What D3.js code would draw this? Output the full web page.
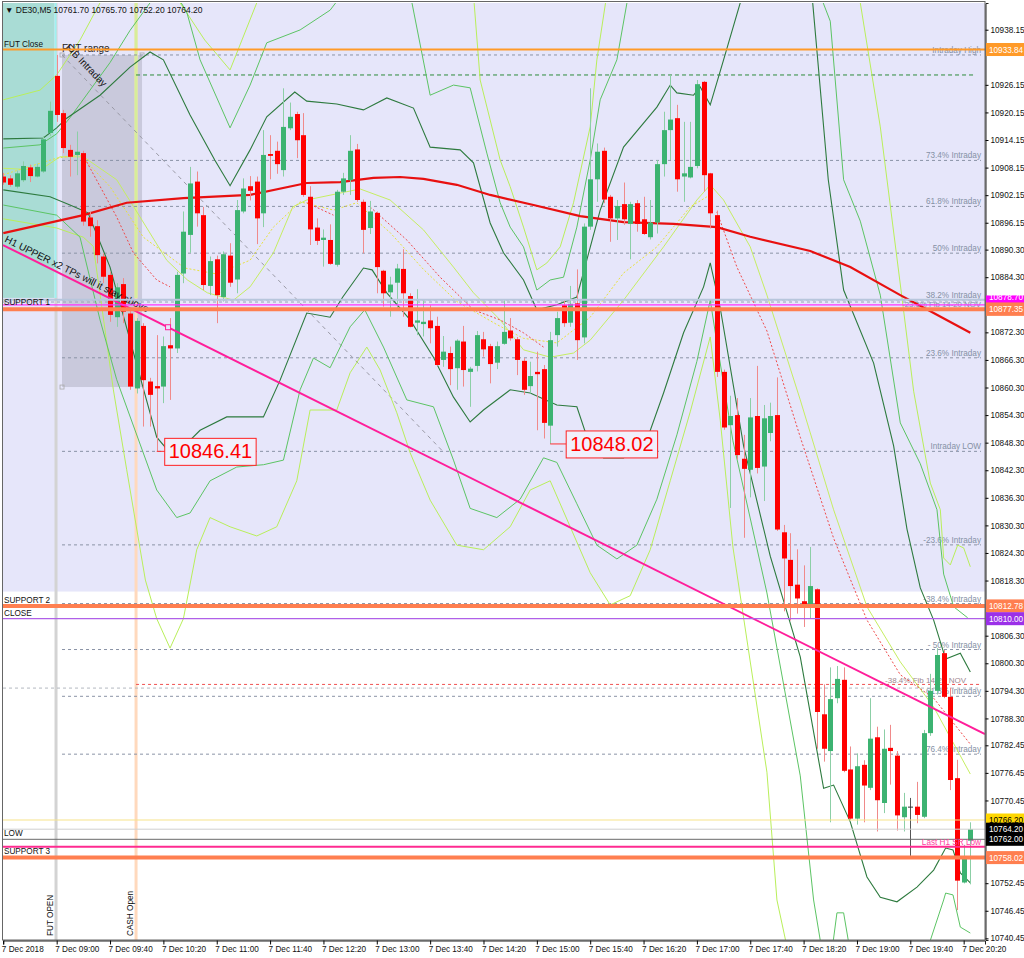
<!DOCTYPE html>
<html><head><meta charset="utf-8">
<script src="https://cdn.jsdelivr.net/npm/d3@7"></script>
<style>
body{margin:0;background:#fff}
svg{display:block}
text{font-family:"Liberation Sans",Arial,sans-serif}
</style>
</head><body>
<svg id="c" width="1024" height="958"></svg>
<script>
// ---------------- DATA ----------------
const symbol = "DE30,M5";
const headerOHLC = [10761.70, 10765.70, 10752.20, 10764.20];
const firstBar = -8; // bar index of first candle (0 = 7 Dec 09:00, 5-minute bars)
const opens = [10906.2,10905.8,10904.0,10905.4,10908.2,10906.2,10907.3,10915.7,
10928.1,10920.0,10912.0,10910.9,10911.3,10897.3,10895.4,10888.8,10884.8,10875.6,
10882.8,10876.4,10860.1,10873.7,10861.6,10860.6,10860.5,10869.5,10868.8,10885.1,
10893.5,10905.1,10897.8,10882.4,10888.2,10880.0,10889.0,10883.8,10898.6,10904.1,
10905.1,10898.2,10911.1,10911.8,10907.6,10916.7,10919.8,10915.2,10901.8,10895.1,
10892.4,10892.4,10887.0,10902.9,10905.4,10912.1,10900.7,10895.0,10898.3,10885.7,
10881.0,10883.1,10886.1,10880.2,10874.4,10874.1,10874.9,10873.7,10866.3,10867.8,
10864.5,10870.3,10863.7,10865.0,10870.8,10869.3,10865.7,10869.8,10872.7,10870.8,
10866.1,10860.6,10863.7,10864.3,10852.0,10871.7,10878.2,10874.4,10878.6,10871.2,
10895.3,10905.6,10911.8,10901.8,10897.1,10900.2,10895.9,10900.4,10896.9,10893.0,
10896.2,10908.9,10916.3,10918.9,10906.2,10906.0,10908.5,10926.8,10906.9,10897.8,
10863.7,10852.1,10854.3,10844.8,10842.4,10854.1,10843.1,10850.4,10854.3,10828.8,
10822.8,10817.4,10813.8,10812.4,10816.4,10789.2,10781.2,10792.7,10796.7,10777.2,
10766.5,10778.2,10773.2,10784.2,10769.9,10781.9,10780.2,10766.8,10769.0,10769.1,
10766.9,10785.1,10794.3,10802.5,10793.0,10775.3,10752.6,10761.7];
const highs = [10907.0,10906.5,10907.5,10909.5,10908.8,10909.0,10915.0,10922.5,
10932.65,10920.7,10913.1,10916.0,10911.8,10898.6,10896.7,10889.5,10885.5,10883.0,
10884.1,10877.2,10875.4,10874.3,10862.4,10871.7,10871.4,10875.4,10885.5,10898.6,
10908.3,10907.3,10899.6,10888.8,10889.0,10889.9,10891.7,10901.1,10905.8,10906.3,
10906.2,10916.3,10915.2,10913.8,10925.4,10922.3,10920.3,10920.0,10904.1,10897.1,
10894.7,10895.8,10903.3,10907.0,10915.2,10913.3,10901.2,10900.9,10898.6,10885.9,
10884.4,10887.2,10890.4,10880.8,10881.7,10879.3,10878.2,10875.7,10871.5,10869.2,
10870.8,10873.7,10864.8,10872.6,10872.4,10869.8,10870.3,10879.3,10875.4,10871.3,
10866.7,10865.9,10868.1,10865.2,10872.4,10876.8,10879.5,10882.4,10886.0,10896.0,
10925.4,10913.4,10912.5,10902.2,10901.1,10904.9,10900.7,10901.1,10901.8,10901.1,
10909.8,10920.3,10928.3,10921.8,10918.1,10918.1,10927.2,10927.0,10907.0,10898.8,
10864.2,10858.5,10858.0,10850.0,10858.0,10865.0,10856.5,10857.0,10862.5,10830.4,
10828.6,10825.1,10821.6,10825.6,10816.6,10795.7,10799.4,10799.7,10799.4,10782.2,
10780.7,10779.2,10792.7,10786.5,10785.9,10786.9,10781.2,10772.1,10771.0,10774.5,
10785.8,10798.0,10803.6,10803.2,10795.0,10779.3,10760.8,10765.7];
const lows = [10904.4,10904.0,10903.6,10905.0,10905.0,10906.0,10907.0,10915.0,
10918.1,10911.3,10906.2,10906.5,10895.5,10893.1,10887.3,10883.0,10874.6,10873.5,
10874.3,10859.8,10859.0,10851.8,10851.8,10846.41,10856.9,10857.6,10867.8,10883.0,
10889.6,10895.3,10881.5,10880.4,10874.3,10879.0,10882.2,10880.8,10898.2,10901.0,
10891.5,10895.2,10905.6,10906.8,10906.2,10916.3,10910.2,10901.8,10891.3,10891.3,
10886.6,10887.0,10886.6,10902.2,10902.2,10900.7,10889.5,10893.7,10880.8,10877.9,
10875.7,10877.2,10875.7,10873.4,10871.7,10871.4,10869.9,10865.0,10864.8,10860.8,
10859.8,10860.5,10856.1,10863.8,10867.0,10861.2,10864.3,10869.6,10870.5,10863.0,
10858.7,10859.0,10851.0,10849.2,10848.02,10869.2,10873.5,10873.5,10866.3,10869.9,
10894.6,10900.7,10900.4,10892.0,10892.4,10895.7,10888.2,10894.2,10893.5,10892.5,
10893.8,10906.2,10909.8,10902.9,10900.7,10905.8,10908.0,10902.9,10894.9,10862.6,
10851.1,10834.1,10844.6,10827.6,10836.4,10841.6,10835.6,10848.6,10829.1,10811.6,
10809.6,10811.1,10808.2,10810.1,10781.7,10778.9,10765.7,10791.6,10776.6,10766.2,
10765.2,10765.7,10772.7,10763.7,10767.7,10773.9,10763.9,10763.7,10758.4,10765.5,
10766.6,10784.5,10793.5,10792.7,10772.7,10746.6,10752.4,10752.2];
const closes = [10904.9,10904.4,10906.9,10908.5,10906.3,10908.3,10914.3,10920.5,
10919.6,10912.4,10910.5,10911.6,10896.4,10895.4,10889.1,10884.4,10876.1,10882.1,
10876.8,10860.5,10874.8,10861.9,10858.7,10860.1,10869.3,10868.8,10884.8,10894.2,
10904.7,10898.2,10882.6,10887.8,10880.4,10889.3,10883.1,10898.9,10903.6,10903.1,
10897.1,10910.9,10910.7,10908.9,10917.0,10919.2,10914.1,10902.2,10894.7,10892.2,
10892.9,10887.2,10902.9,10905.8,10911.8,10901.1,10894.6,10898.6,10886.5,10880.8,
10882.7,10886.2,10880.8,10873.5,10874.9,10874.6,10873.2,10865.2,10868.1,10864.3,
10870.5,10864.1,10864.4,10871.7,10868.6,10865.4,10869.3,10872.4,10871.0,10866.3,
10859.8,10862.8,10863.2,10852.6,10870.6,10875.4,10874.3,10878.5,10870.6,10895.3,
10905.6,10911.6,10901.2,10897.1,10899.8,10896.9,10900.2,10895.9,10893.7,10896.2,
10908.9,10916.3,10918.6,10905.6,10906.9,10908.3,10926.3,10906.5,10898.2,10863.7,
10851.6,10854.1,10845.6,10842.6,10853.8,10842.8,10853.6,10854.1,10829.4,10823.1,
10817.1,10814.4,10813.1,10817.1,10789.7,10781.7,10792.5,10796.9,10776.9,10766.5,
10777.9,10773.7,10783.9,10770.5,10781.7,10781.2,10767.2,10769.1,10769.0,10767.3,
10785.1,10794.3,10802.1,10793.0,10774.9,10753.0,10758.2,10764.2];

const timeTickBars = [-8,0,8,16,24,32,40,48,56,64,72,80,88,96,104,112,120,128,136];
const timeLabels = ["7 Dec 2018","7 Dec 09:00","7 Dec 09:40","7 Dec 10:20","7 Dec 11:00","7 Dec 11:40",
"7 Dec 12:20","7 Dec 13:00","7 Dec 13:40","7 Dec 14:20","7 Dec 15:00","7 Dec 15:40","7 Dec 16:20",
"7 Dec 17:00","7 Dec 17:40","7 Dec 18:20","7 Dec 19:00","7 Dec 19:40","7 Dec 20:20"];
const priceTicks = [10938.15,10932.15,10926.15,10920.15,10914.15,10908.15,10902.15,10896.15,
10890.30,10884.30,10878.30,10872.30,10866.30,10860.30,10854.30,10848.30,10842.30,10836.30,
10830.30,10824.30,10818.30,10812.30,10806.30,10800.30,10794.30,10788.30,10782.45,10776.45,
10770.45,10764.45,10758.45,10752.45,10746.45,10740.45];

// Intraday fib (high / low) and its levels
const fibHigh = 10932.65, fibLow = 10846.41;
const fibLevels = [1.0, 0.734, 0.618, 0.5, 0.382, 0.236, 0, -0.236, -0.384, -0.5, -0.618, -0.764];
const fibTexts = ["Intraday High","73.4%  Intraday","61.8% Intraday","50%   Intraday","38.2%  Intraday",
"23.6%  Intraday","Intraday LOW","-23.6% Intraday","-38.4% Intraday","- 50% Intraday","- 61.8% Intraday","-76.4% Intraday"];
const fibStartBar = 0.8, fibEndBar = 12.8, fibLowBar = 57.9, fibBoxLow = 10860.4;

// horizontal objects
const hLineNames  = ["FUT Close","SUPPORT 1","SUPPORT 2","CLOSE","LOW","SUPPORT 3"];
const hLinePrices = [10933.84, 10877.35, 10812.78, 10810.00, 10762.00, 10758.02];
const extraLevelPrices = [10878.30, 10879.40, 10766.20, 10764.20, 10760.40]; // magenta, steel, yellow, bid, Last H1 SR Low
const greenDashPrice = 10928.3;
const nov236 = 10878.9, nov384 = 10795.7, nov384b = 10794.9;
const lavenderBottom = 10815.9, tealBottom = 10879.8;
const futOpenBar = -0.1, cashOpenBar = 11.9, tealEndBar = -0.35;

// trendline "H1 UPPER x2 TPs will it stay above"
const trendBars = [-8.05, 139.2], trendPrices = [10891.3, 10784.9], trendMarkBar = 16.7;

// price labels
const bigLabelBars = [15, 74], bigLabelPrices = [10846.41, 10848.02], bigLabelAnchor = [16.2, 76.4];

// moving average (red)
const maLine = [[-8,10893.9],[4,10897.8],[10.5,10900.5],[19,10901.5],[29,10902.2],[37.5,10904.8],[42.5,10905.0],
[47.5,10905.9],[51.5,10906.1],[55,10905.7],[60,10904.4],[65,10902.2],[71.5,10900.0],[78.5,10897.6],[85,10896.3],
[92.5,10895.9],[99,10895.2],[104,10893.1],[113,10890.0],[119,10886.5],[126.5,10880.4],[131.5,10876.5],[137,10872.2]];

// bands: dark green
const dgUpper = [[-8,10914.4],[-2,10914.6],[0,10916.8],[1.5,10918.9],[6.5,10923.9],[11,10930.0],[14,10933.3],[16,10931.6],
[20,10919.6],[23.7,10909.8],[26,10904.2],[29,10912.0],[31.5,10919.2],[35.7,10924.6],[37.5,10922.6],[42,10922.0],
[46,10920.7],[49.5,10923.3],[53.5,10921.1],[56,10912.6],[60.5,10912.0],[62.5,10909.2],[65,10896.1],[67,10889.6],
[70,10883.7],[72,10877.2],[75,10878.3],[78,10880.0],[81.5,10898.9],[85,10912.6],[90,10921.3],[92,10926.1],[93,10924.4],
[95.5,10923.9],[96.5,10925.7],[98,10921.8],[100,10931.6],[102.5,10944],[105,10955],[110,10960],[113,10950],
[115.7,10905.5],[118,10881.5],[122.5,10865.6],[125.5,10847.6],[127.5,10829.5],[129.5,10816.7],[131.5,10809.7],
[133.3,10801.2],[135.5,10802.5],[137,10798.4]];
const dgLower = [[-8,10903.3],[-1,10901.8],[2,10900.0],[4.7,10898.3],[8,10886.5],[11.4,10868.5],[15,10849.5],[17.5,10845.2],
[21.5,10851.0],[25.5,10853.9],[31,10853.9],[33.5,10861.9],[37.5,10876.5],[41,10875.6],[42.9,10880.0],[46,10886.3],
[47.3,10885.9],[49.5,10880.9],[53,10875.0],[56.5,10866.9],[59.5,10858.2],[62,10852.8],[64,10855.4],[68,10859.8],
[71,10859.1],[75,10856.5],[78,10856.1],[80,10847.4],[82,10845.0],[85,10845.0],[88.5,10848.9],[91,10859.1],[94,10872.2],
[97,10882.2],[98,10887.4],[99.5,10877.6],[103,10847.6],[107,10823.6],[111.5,10801.7],[115,10773.1],[116.5,10773.8],
[119,10765.8],[121.5,10753.8],[123.5,10749.4],[126,10748.4],[129,10751.6],[131.5,10755.3],[133.3,10760.1],
[134.4,10759.7],[135.5,10754.7],[137,10752.5]];
// bands: medium green
const mgUpper = [[-8,10912.4],[-2.5,10913.1],[0,10915.5],[2,10919],[5,10925],[8,10931],[11,10938],[14,10944],[17,10948],
[19.5,10942],[21.5,10931.6],[26,10916.8],[29,10926.1],[31.5,10935.3],[36.5,10938.1],[41,10942.4],[45,10950],[53,10946],
[56,10923.9],[59.5,10926.1],[62,10925.5],[64.5,10911.3],[66.5,10900.5],[68,10895.2],[70,10890.9],[72,10881.5],[74,10883.7],
[76,10884.3],[78,10895.2],[80,10909.8],[81.5,10922.9],[84,10931.6],[86,10948],[112,10955],[116,10940],[118,10905.5],
[120.5,10896.5],[123.5,10880.4],[126.5,10852.6],[129.5,10843.7],[132,10833.7],[133,10819.7],[134.5,10812.6],[136.6,10810.2]];
const mgLower = [[-8,10900],[0,10897.8],[3.5,10893],[6.5,10875],[9,10862],[12.5,10848],[15,10838],[18,10832],[20,10833],
[23,10840],[27,10843],[31,10843.5],[34,10844.5],[36.5,10859.8],[38.5,10866.7],[41,10864.6],[44,10873.5],[46.2,10877.2],
[49,10869.1],[52.5,10857.6],[56.5,10856.1],[59.5,10844.5],[62,10834],[66,10832],[69.5,10836],[73,10845],[75,10844],
[78,10835],[81,10826],[84,10823],[87,10826],[90,10836],[93,10850],[96,10866],[98,10879.3],[99,10870],[101.4,10848.7],
[106.5,10815.6],[111.5,10775.8],[113.5,10748.8],[114.5,10740],[116,10735],[117,10746],[118,10746],[118.7,10740],
[120,10725],[129,10725],[131,10740],[133,10748.8],[133.3,10750.3],[134.4,10749.9],[135.5,10742.9],[137,10741.6]];
// bands: yellow-green
const ygUpper = [[-8,10922.9],[-2.5,10925],[0,10928.3],[3.5,10935.9],[6.5,10944],[9,10952],[13,10955],[18.5,10944],
[22.2,10935.9],[26,10929.4],[30,10944],[34,10955],[62,10955],[63.5,10927.2],[66.5,10909.8],[68,10904],[70,10895.2],
[72,10885.9],[73.5,10887.4],[75.5,10890.9],[77.5,10900.5],[80,10917.0],[81,10931.6],[82.3,10944],[86,10960],[120,10960],
[120.5,10944],[123.5,10917],[126.8,10879.3],[128.5,10859.5],[131,10839.5],[132.5,10833.7],[133,10823.2],[134,10821.7],
[135.1,10826],[136,10825.4],[137,10821.3]];
const ygLower = [[-8,10897],[0,10895],[4,10893],[5.5,10891],[8.5,10859.8],[10.5,10842.4],[13.3,10818.4],[15,10810],
[17,10803.6],[19,10810],[21,10825],[23,10832],[26,10830],[30,10828],[33,10830],[36,10840],[38,10855.4],[42,10855.4],
[44,10863.5],[46.5,10869.1],[48.5,10864.1],[51,10854.8],[53,10846.1],[56,10835.8],[60,10826],[64,10825],[68,10830],
[71,10838],[74,10840],[77,10830],[80,10820],[83,10813],[86,10815],[89,10825],[92,10840],[95,10855],[98,10871.3],
[99.5,10853.2],[101.4,10825.6],[106.5,10776.6],[108,10748.8],[109.3,10740],[112,10720],[137,10720]];
// middle lines
const ygMiddle = [[-8,10908],[-2.5,10907.6],[0.5,10910.5],[4,10910.5],[9,10905.5],[12.5,10897.4],[16.5,10888],[19.6,10883.7],
[22.6,10880.9],[26.5,10879.3],[29,10882.2],[32.5,10889.6],[35.4,10899.6],[37.5,10901.1],[45.5,10903.5],[50,10901.1],
[55,10894.6],[59.5,10886.5],[62.5,10880.9],[66.5,10875],[70,10868.5],[74,10866.9],[77.5,10867.8],[80,10870.6],[85,10879.3],
[91,10890.9],[96,10901.1],[98,10904.4],[100,10901.1],[104,10890.9],[106.5,10880.4],[111.5,10857.6],[116.5,10833.7],
[121.5,10812.6],[126.5,10800.6],[131.5,10790.8],[137,10776.2]];
const yellowDash = [[-8,10906.6],[0,10910.2],[3.5,10910.9],[8,10904],[13,10893],[19.2,10886.3],[24,10885],[29,10888],
[32.5,10895.2],[36.5,10900.7],[38.5,10900],[41.5,10898.9],[45,10900.5],[50,10894],[55,10886],[60,10879],[66,10874],
[70,10871],[75,10870],[80,10875.6],[85,10885.2],[90,10890.9],[95,10899.6],[97.5,10901.8]];
const redDotted = [
 [[4.5,10909.4],[9,10897.4],[11.5,10889.6],[15,10883.7],[17,10882.2]],
 [[37.5,10900.5],[41.5,10897.8]],
 [[47,10899.6],[52.5,10892.4],[57.5,10884.3],[62.5,10877.2],[66.5,10875],[70,10872.2],[73,10869.1]],
 [[99,10898.5],[102,10886.5],[106.5,10872.6],[111.5,10849.5],[116.5,10827.5],[121.5,10809.7],[126.5,10797.8],[131.5,10792.7],[137,10782.7]]
];

// ---------------- DRAWING ----------------
const svg = d3.select("#c");
const L = 3, R = 985, T = 3, B = 940;
const x = d3.scaleLinear().domain([-8.05, 139.2]).range([L, R]);
const y = d3.scaleLinear().domain([10740.09, 10943.96]).range([B, T]);

svg.append("defs").append("clipPath").attr("id","clip")
  .append("rect").attr("x",L).attr("y",T).attr("width",R-L).attr("height",B-T);
const g = svg.append("g").attr("clip-path","url(#clip)");

// backgrounds
g.append("rect").attr("x",L).attr("y",T).attr("width",R-L).attr("height",y(lavenderBottom)-T).attr("fill","#e6e6fa");
g.append("rect").attr("x",x(-8.05)).attr("y",T).attr("width",x(tealEndBar)-x(-8.05)).attr("height",y(tealBottom)-T).attr("fill","#a9dcd5");
g.append("rect").attr("x",x(fibStartBar)).attr("y",y(fibHigh)).attr("width",x(fibEndBar)-x(fibStartBar))
  .attr("height",y(fibBoxLow)-y(fibHigh)).attr("fill","#c9c9dc");
// vertical lines
g.append("line").attr("x1",x(futOpenBar)).attr("x2",x(futOpenBar)).attr("y1",T).attr("y2",B).attr("stroke","#d3d3d3").attr("stroke-width",3);
g.append("line").attr("x1",x(futOpenBar)-0.5).attr("x2",x(futOpenBar)-0.5).attr("y1",T).attr("y2",y(tealBottom)).attr("stroke","#9ff2f2").attr("stroke-width",2);
g.append("line").attr("x1",x(cashOpenBar)).attr("x2",x(cashOpenBar)).attr("y1",T).attr("y2",B).attr("stroke","#ffd9bd").attr("stroke-width",3);
g.append("line").attr("x1",x(cashOpenBar)).attr("x2",x(cashOpenBar)).attr("y1",T).attr("y2",y(tealBottom)).attr("stroke","#d6ee9a").attr("stroke-width",3);

// fib corner markers
[[fibStartBar,fibHigh],[fibStartBar,fibBoxLow],[fibEndBar,fibHigh]].forEach(p=>{
  g.append("rect").attr("x",x(p[0])-2).attr("y",y(p[1])-2).attr("width",4).attr("height",4)
   .attr("fill","none").attr("stroke","#aaaaaa").attr("stroke-width",0.8);
});

// fib levels
const range = fibHigh - fibLow;
fibLevels.forEach((lv,i)=>{
  const p = fibLow + lv*range;
  g.append("line").attr("x1",x(fibStartBar)).attr("x2",981).attr("y1",y(p)).attr("y2",y(p))
    .attr("stroke","#8a93a6").attr("stroke-width",1).attr("stroke-dasharray","3,3");
  g.append("text").attr("x",981).attr("y",y(p)-2).attr("text-anchor","end").attr("font-size",8.2)
    .attr("fill","#8591a5").text(fibTexts[i]);
});
// Fib 14-20 NOV
g.append("line").attr("x1",L).attr("x2",981).attr("y1",y(nov236)).attr("y2",y(nov236))
  .attr("stroke","#98a2b4").attr("stroke-width",1).attr("stroke-dasharray","3,3");
g.append("text").attr("x",981).attr("y",y(nov236)+5).attr("text-anchor","end").attr("font-size",7.8).attr("fill","#8591a5").text("-23.6%  Fib 14-20  NOV");
g.append("line").attr("x1",L).attr("x2",981).attr("y1",y(nov384b)).attr("y2",y(nov384b))
  .attr("stroke","#b4b8c0").attr("stroke-width",1).attr("stroke-dasharray","3,3");
g.append("line").attr("x1",x(cashOpenBar)).attr("x2",981).attr("y1",y(nov384)).attr("y2",y(nov384))
  .attr("stroke","#f05050").attr("stroke-width",1).attr("stroke-dasharray","3,3");
g.append("text").attr("x",966).attr("y",y(nov384)-1.5).attr("text-anchor","end").attr("font-size",8).attr("fill","#a08890").text("-38.4%  Fib 14-20  NOV");
// green dashed
g.append("line").attr("x1",x(cashOpenBar)).attr("x2",975).attr("y1",y(greenDashPrice)).attr("y2",y(greenDashPrice))
  .attr("stroke","#2c8a3a").attr("stroke-width",1).attr("stroke-dasharray","4,3");

// fib diagonal
g.append("line").attr("x1",x(fibStartBar)).attr("y1",y(fibHigh)).attr("x2",x(fibLowBar)).attr("y2",y(fibLow))
  .attr("stroke","#9a9aa6").attr("stroke-width",1).attr("stroke-dasharray","4,4");

// helpers
const line = d3.line().x(d=>x(d[0])).y(d=>y(d[1]));
function path(pts, color, w, dash){
  const p = g.append("path").attr("d",line(pts)).attr("fill","none").attr("stroke",color).attr("stroke-width",w);
  if(dash) p.attr("stroke-dasharray",dash);
  return p;
}
// bands
path(ygUpper,"#b9ef5a",1); path(ygLower,"#b9ef5a",1);
path(mgUpper,"#5cc464",1); path(mgLower,"#5cc464",1);
path(dgUpper,"#2d7a3e",1.1); path(dgLower,"#2d7a3e",1.1);
path(ygMiddle,"#c6ee62",1);
path(yellowDash,"#e8e23c",1,"2,2");
redDotted.forEach(s=>path(s,"#f04a4a",1,"2,2"));
path(maLine,"#e81010",2.2);

// candles
const bw = 5;
opens.forEach((o,i)=>{
  const k = firstBar + i, h = highs[i], l = lows[i], c = closes[i];
  const up = c > o, doji = c === o;
  const col = doji ? "#333" : (up ? "#3cb371" : "#ff0000");
  const wcol = doji ? "#555" : (up ? "#8ccfa6" : "#f08a8a");
  const cx = Math.round(x(k)) + 0.5;
  g.append("line").attr("x1",cx).attr("x2",cx).attr("y1",y(h)).attr("y2",y(l)).attr("stroke",wcol).attr("stroke-width",1);
  if (doji) {
    g.append("line").attr("x1",cx-2.5).attr("x2",cx+2.5).attr("y1",y(o)).attr("y2",y(o)).attr("stroke",col).attr("stroke-width",1);
  } else {
    const top = y(Math.max(o,c)), bot = y(Math.min(o,c));
    g.append("rect").attr("x",cx-bw/2).attr("y",top).attr("width",bw).attr("height",Math.max(1,bot-top)).attr("fill",col);
  }
});

// trendline
const tl = d3.scaleLinear().domain(trendBars).range(trendPrices);
g.append("line").attr("x1",x(trendBars[0])).attr("y1",y(trendPrices[0])).attr("x2",x(trendBars[1])).attr("y2",y(trendPrices[1]))
  .attr("stroke","#ff1e9a").attr("stroke-width",2);
g.append("rect").attr("x",x(trendMarkBar)-2.5).attr("y",y(tl(trendMarkBar))-2.5).attr("width",5).attr("height",5)
  .attr("fill","#e6e6fa").attr("stroke","#ff1e9a").attr("stroke-width",1);
const ang = Math.atan2(y(trendPrices[1])-y(trendPrices[0]), x(trendBars[1])-x(trendBars[0]))*180/Math.PI;
g.append("text").attr("transform",`translate(${x(-7.9)},${y(tl(-7.9))-4}) rotate(${ang})`)
  .attr("font-size",10).attr("fill","#111").text("H1 UPPER x2 TPs will it stay above");
const fang = Math.atan2(y(fibLow)-y(fibHigh), x(fibLowBar)-x(fibStartBar))*180/Math.PI;
g.append("text").attr("transform",`translate(${x(fibStartBar)+3},${y(fibHigh)-7}) rotate(${fang})`)
  .attr("font-size",10).attr("fill","#111").text("FIB Intraday");
g.append("text").attr("x",x(fibStartBar)).attr("y",y(fibHigh)-3).attr("font-size",10).attr("fill","#222").text("FUT range");

// horizontal object lines
function hline(p, color, w){ g.append("line").attr("x1",L).attr("x2",R).attr("y1",y(p)).attr("y2",y(p)).attr("stroke",color).attr("stroke-width",w); }
hline(extraLevelPrices[1],"#b7c6dc",2);
hline(extraLevelPrices[0],"#ff33ff",1.2);
hline(hLinePrices[0],"#ff9a28",2);
hline(hLinePrices[1],"#ff7f50",4);
hline(hLinePrices[2],"#ff7f50",4);
hline(hLinePrices[3],"#b060e8",1.2);
hline(extraLevelPrices[2],"#f7e48a",1.2);
hline(extraLevelPrices[3],"#cfcfcf",1);
hline(hLinePrices[4],"#6a6a6a",1);
hline(extraLevelPrices[4],"#ff2a90",2);
hline(hLinePrices[5],"#ff7f50",4);
g.append("text").attr("x",981).attr("y",y(extraLevelPrices[4])-1.5).attr("text-anchor","end").attr("font-size",8.2).attr("fill","#ff3ca0").text("Last H1 SR Low");

// left labels
const leftOff = [-3,-4,-3,-3,-3,-4];
hLineNames.forEach((n,i)=>{
  g.append("text").attr("x",4).attr("y",y(hLinePrices[i])+leftOff[i]).attr("font-size",8.2).attr("fill","#111").text(n);
});

// vertical line labels
[[futOpenBar,"FUT OPEN"],[cashOpenBar,"CASH Open"]].forEach(d=>{
  g.append("text").attr("transform",`translate(${x(d[0])-3},${B-4}) rotate(-90)`).attr("font-size",8.2).attr("fill","#111").text(d[1]);
});

// big price labels
bigLabelBars.forEach((k,i)=>{
  const p = bigLabelPrices[i], ax = x(bigLabelAnchor[i]), yy = y(p);
  g.append("line").attr("x1",x(k)).attr("x2",ax).attr("y1",yy).attr("y2",yy).attr("stroke","#ff3030").attr("stroke-width",1);
  const t = g.append("text").attr("x",ax+4).attr("y",yy+7).attr("font-size",20).attr("fill","#ff0000").text(p.toFixed(2));
  const bb = t.node().getBBox();
  g.insert("rect","text:last-of-type").attr("x",ax).attr("y",yy-13).attr("width",bb.width+8).attr("height",27)
    .attr("fill","#f1effb").attr("stroke","#ff2020").attr("stroke-width",1);
  t.raise();
});

// header
svg.append("text").attr("x",5).attr("y",12.5).attr("font-size",8.5).attr("fill","#111")
  .text("\u25BC " + symbol + "  " + headerOHLC.map(v=>v.toFixed(2)).join(" "));

// right axis price boxes (list)
const boxPrices = [hLinePrices[0], extraLevelPrices[0]+0.4, hLinePrices[1], hLinePrices[2], hLinePrices[3],
                   extraLevelPrices[2], extraLevelPrices[3], hLinePrices[4], hLinePrices[5]];
const boxBg = ["#ff9a28","#ff00ff","#ff7f50","#ff7f50","#9b30e8","#ffd700","#000","#000","#ff7f50"];
const boxFg = ["#fff","#fff","#fff","#fff","#fff","#000","#fff","#fff","#fff"];

// frame & axes
svg.append("rect").attr("x",2.5).attr("y",1.5).attr("width",R-2.5).attr("height",B-1.5).attr("fill","none").attr("stroke","#666").attr("stroke-width",1);
const visibleTicks = priceTicks.filter(t => boxPrices.every(bp => Math.abs(y(bp)-y(t)) > 9));
const ya = d3.axisRight(y).tickValues(visibleTicks).tickFormat(d3.format(".2f")).tickSize(3).tickPadding(2);
const yg = svg.append("g").attr("transform",`translate(${R+0.5},0)`).call(ya);
yg.select(".domain").attr("stroke","#222");
yg.selectAll("text").attr("font-size",8.2).attr("fill","#111").attr("font-family","Liberation Sans, Arial, sans-serif");
const xa = d3.axisBottom(x).tickValues(timeTickBars).tickFormat((d,i)=>timeLabels[i]).tickSize(4).tickPadding(2);
const xg = svg.append("g").attr("transform",`translate(0,${B+0.5})`).call(xa);
xg.select(".domain").attr("stroke","#222");
xg.selectAll("text").attr("font-size",8.2).attr("fill","#111").attr("text-anchor","start").attr("dx",-2).attr("font-family","Liberation Sans, Arial, sans-serif");

boxPrices.forEach((p,i)=>{
  const yy = y(p) + (i===1 ? -1 : 0);
  svg.append("rect").attr("x",R+1).attr("y",yy-6.5).attr("width",1024-R-1).attr("height",13).attr("fill",boxBg[i]);
  if (i !== 1) svg.append("text").attr("x",R+4).attr("y",yy+3).attr("font-size",8.2).attr("fill",boxFg[i]).text(p.toFixed(2));
  else svg.append("text").attr("x",R+4).attr("y",yy-1.5).attr("font-size",8.2).attr("fill",boxFg[i]).text(p.toFixed(2));
});
// redraw coral box on top of magenta
{
  const yy = y(hLinePrices[1]);
  svg.append("rect").attr("x",R+1).attr("y",yy-6.5).attr("width",1024-R-1).attr("height",13).attr("fill","#ff7f50");
  svg.append("text").attr("x",R+4).attr("y",yy+3).attr("font-size",8.2).attr("fill","#fff").text(hLinePrices[1].toFixed(2));
}
</script>
</body></html>
